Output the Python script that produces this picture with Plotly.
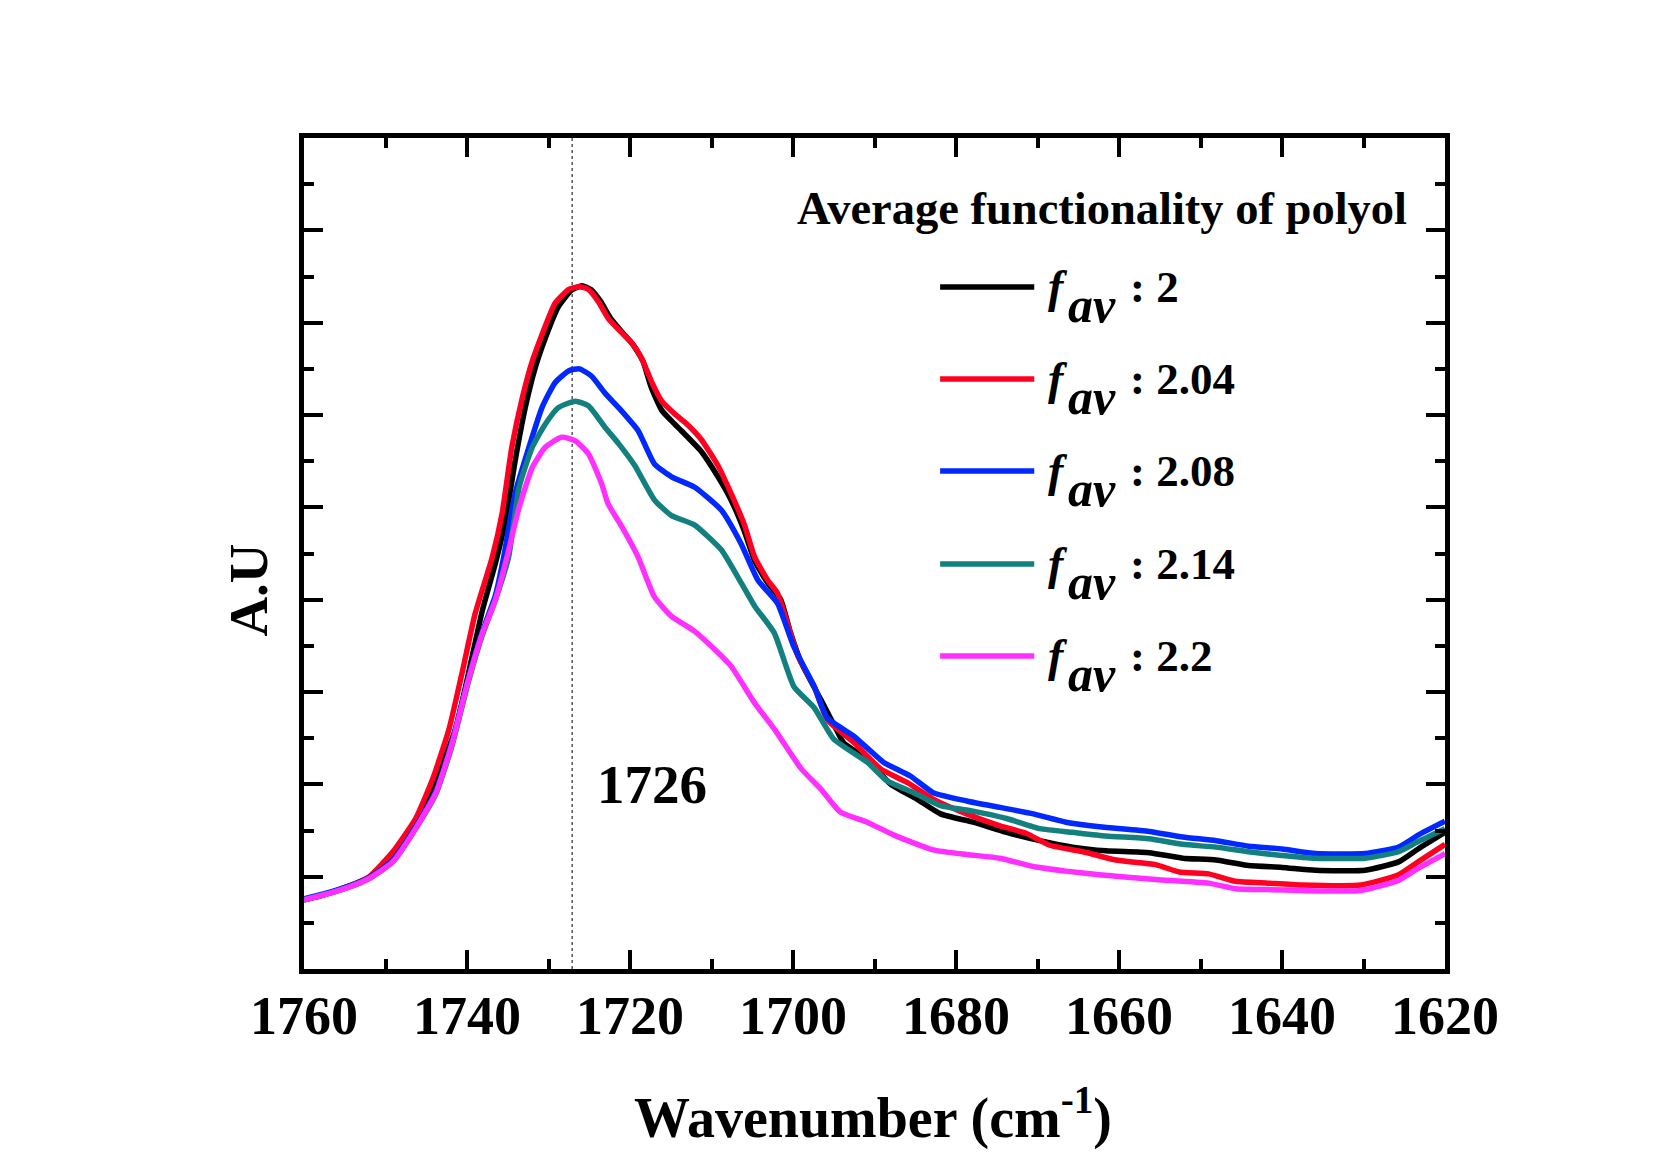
import plotly.graph_objects as go

# ---- data ----
w_f200 = [1760, 1757.7, 1754.4, 1752, 1749.1, 1746.3, 1744.2, 1741.4, 1738.1, 1736.5, 1735.3, 1734.1,
          1732.8, 1731.6, 1730.4, 1728.8, 1727.2, 1725.9, 1724.8, 1723.6, 1722.4, 1720.8, 1719.6,
          1718.4, 1717.4, 1716.1, 1714.5, 1713.7, 1711.3, 1709.2, 1707.6, 1706.0, 1704.7, 1703.1,
          1701.5, 1700.3, 1699.0, 1696.6, 1694.6, 1693.8, 1690.9, 1688.0, 1684.8, 1681.9, 1677.9,
          1673.8, 1669.7, 1665.7, 1661.6, 1656.3, 1652.2, 1648.1, 1644.1, 1640.0, 1635.9, 1629.8,
          1625.7, 1623.3, 1620]
a_f200 = [0.75, 0.80, 0.90, 0.99, 1.24, 1.58, 1.98, 2.60, 3.89, 4.40, 4.85, 5.50,
          6.10, 6.52, 6.83, 7.17, 7.35, 7.40, 7.36, 7.23, 7.05, 6.88, 6.76,
          6.58, 6.30, 6.05, 5.90, 5.83, 5.61, 5.33, 5.08, 4.75, 4.42, 4.18,
          4.00, 3.64, 3.32, 2.92, 2.58, 2.45, 2.27, 2.00, 1.84, 1.68, 1.59,
          1.48, 1.39, 1.32, 1.28, 1.26, 1.20, 1.18, 1.12, 1.10, 1.07, 1.07,
          1.16, 1.30, 1.48]

w_f204 = [1760, 1757.7, 1754.4, 1752, 1749.1, 1746.3, 1744.2, 1742.2, 1740.6, 1739.0, 1736.9, 1735.7,
          1734.5, 1733.2, 1732.0, 1730.8, 1729.2, 1727.5, 1726.2, 1725.1, 1723.9, 1722.7, 1721.0,
          1719.8, 1718.6, 1717.4, 1716.1, 1714.5, 1713.0, 1711.3, 1709.2, 1707.6, 1706.0, 1704.7,
          1703.1, 1701.9, 1700.7, 1699.4, 1697.4, 1695.8, 1692.5, 1689.3, 1686.0, 1682.8, 1678.7,
          1674.6, 1671.4, 1668.5, 1664.4, 1660.4, 1655.5, 1652.6, 1649.0, 1645.7, 1641.7, 1637.6,
          1630.3, 1625.7, 1623.3, 1620]
a_f204 = [0.75, 0.80, 0.90, 1.00, 1.27, 1.63, 2.06, 2.60, 3.21, 3.85, 4.46, 4.93,
          5.65, 6.19, 6.58, 6.87, 7.21, 7.36, 7.39, 7.36, 7.23, 7.05, 6.89,
          6.78, 6.62, 6.37, 6.15, 6.01, 5.90, 5.74, 5.45, 5.15, 4.82, 4.46,
          4.21, 4.07, 3.75, 3.39, 3.06, 2.70, 2.45, 2.17, 2.02, 1.84, 1.68,
          1.55, 1.47, 1.34, 1.27, 1.18, 1.13, 1.05, 1.03, 0.95, 0.93, 0.91,
          0.91, 1.02, 1.16, 1.35]

w_f208 = [1760, 1757.7, 1754.4, 1752, 1749.1, 1746.3, 1743.8, 1741.8, 1739.8, 1738.1, 1736.5, 1735.5,
          1734.1, 1732.4, 1730.8, 1729.2, 1727.5, 1726.2, 1724.7, 1723.1, 1721.4, 1719.0, 1717.0,
          1714.9, 1712.1, 1708.8, 1706.4, 1704.3, 1701.9, 1699.9, 1697.4, 1695.8, 1692.5, 1688.9,
          1685.6, 1682.8, 1678.7, 1674.6, 1670.5, 1666.5, 1662.4, 1656.3, 1652.2, 1648.1, 1644.1,
          1640.0, 1635.9, 1629.8, 1625.7, 1623.3, 1620]
a_f208 = [0.76, 0.81, 0.90, 0.99, 1.18, 1.54, 1.93, 2.47, 3.16, 3.66, 4.05, 4.46,
          5.15, 5.65, 6.08, 6.35, 6.48, 6.50, 6.42, 6.24, 6.08, 5.83, 5.47,
          5.33, 5.22, 4.97, 4.61, 4.21, 3.96, 3.49, 3.06, 2.72, 2.52, 2.24,
          2.09, 1.91, 1.82, 1.75, 1.68, 1.59, 1.54, 1.49, 1.43, 1.39, 1.33,
          1.30, 1.25, 1.25, 1.32, 1.45, 1.60]

w_f214 = [1760, 1757.7, 1754.4, 1752, 1749.1, 1746.3, 1743.8, 1741.8, 1739.8, 1738.1, 1736.5, 1734.9,
          1733.6, 1732.0, 1730.4, 1728.8, 1726.7, 1725.1, 1723.1, 1721.4, 1719.4, 1717.0, 1714.9,
          1712.1, 1708.8, 1706.8, 1704.7, 1702.3, 1699.9, 1697.4, 1695.0, 1690.9, 1688.5, 1685.2,
          1681.9, 1677.9, 1673.8, 1669.7, 1665.7, 1661.6, 1656.3, 1652.2, 1648.1, 1644.1, 1640.0,
          1635.9, 1629.8, 1625.7, 1623.3, 1620]
a_f214 = [0.75, 0.80, 0.89, 0.98, 1.16, 1.52, 1.90, 2.43, 3.12, 3.62, 4.00, 4.46,
          5.22, 5.65, 5.90, 6.08, 6.15, 6.10, 5.87, 5.69, 5.45, 5.08, 4.91,
          4.81, 4.54, 4.25, 3.93, 3.64, 3.06, 2.83, 2.49, 2.24, 2.04, 1.91,
          1.77, 1.71, 1.63, 1.52, 1.48, 1.44, 1.41, 1.35, 1.32, 1.27, 1.23,
          1.20, 1.20, 1.27, 1.38, 1.52]

w_f220 = [1760, 1757.7, 1754.4, 1752, 1749.1, 1746.3, 1743.8, 1741.8, 1739.8, 1738.1, 1736.5, 1735.1,
          1733.6, 1732.0, 1730.4, 1728.4, 1726.7, 1725.1, 1723.5, 1722.7, 1721.0, 1719.0, 1717.0,
          1714.9, 1712.1, 1709.6, 1707.6, 1704.7, 1702.3, 1699.0, 1696.6, 1694.2, 1690.9, 1687.6,
          1682.8, 1678.7, 1674.6, 1670.5, 1666.5, 1662.4, 1655.5, 1649.0, 1645.7, 1641.7, 1637.6,
          1630.3, 1625.7, 1623.3, 1620]
a_f220 = [0.75, 0.80, 0.89, 0.98, 1.16, 1.52, 1.91, 2.45, 3.14, 3.64, 4.00, 4.46,
          5.00, 5.43, 5.65, 5.76, 5.72, 5.58, 5.26, 5.04, 4.79, 4.46, 4.03,
          3.82, 3.66, 3.46, 3.28, 2.88, 2.60, 2.17, 1.95, 1.70, 1.59, 1.45,
          1.29, 1.24, 1.20, 1.11, 1.06, 1.02, 0.97, 0.93, 0.87, 0.86, 0.85,
          0.85, 0.96, 1.09, 1.25]

series_values = ["2", "2.04", "2.08", "2.14", "2.2"]
series_x = [w_f200, w_f204, w_f208, w_f214, w_f220]
series_y = [a_f200, a_f204, a_f208, a_f214, a_f220]
series_colors = ["#000000", "#FF0020", "#0028FF", "#138080", "#FF30FF"]

peak_position = 1727.1
peak_label = "1726"
legend_title = "Average functionality of polyol"
x_ticks = [1760, 1740, 1720, 1700, 1680, 1660, 1640, 1620]

FONT = "Liberation Serif, Times New Roman, serif"

fig = go.Figure()
for xs, ys, col, lab in zip(series_x, series_y, series_colors, series_values):
    fig.add_trace(go.Scatter(x=xs, y=ys, mode="lines", name=lab,
                             line=dict(color=col, width=5.5, shape="spline", smoothing=0.5),
                             showlegend=False))

# dotted marker line at the peak
fig.add_shape(type="line", xref="x", yref="paper", x0=peak_position, x1=peak_position,
              y0=0, y1=1, line=dict(color="black", width=1, dash="dot"), layer="below")

annotations = []
annotations.append(dict(text="<b>" + peak_label + "</b>", x=0.3053, y=0.2226, xref="paper", yref="paper",
                        showarrow=False, font=dict(family=FONT, size=55, color="black"),
                        xanchor="center", yanchor="middle"))
annotations.append(dict(text="<b>" + legend_title + "</b>", x=0.4306, y=0.9146, xref="paper", yref="paper",
                        showarrow=False, font=dict(family=FONT, size=46.5, color="black"),
                        xanchor="left", yanchor="middle"))

leg_y = [0.8207, 0.7100, 0.5993, 0.4874, 0.3767]
for ly, col, lab in zip(leg_y, series_colors, series_values):
    fig.add_shape(type="line", xref="paper", yref="paper", x0=0.5575, x1=0.6400, y0=ly, y1=ly,
                  line=dict(color=col, width=5.5))
    annotations.append(dict(text="<b><i>f</i></b>", x=0.6505, y=ly, xref="paper", yref="paper",
                            showarrow=False, font=dict(family=FONT, size=46, color="black"),
                            xanchor="left", yanchor="middle"))
    annotations.append(dict(text="<b><i>av</i></b>", x=0.6680, y=ly - 0.0215, xref="paper", yref="paper",
                            showarrow=False, font=dict(family=FONT, size=50, color="black"),
                            xanchor="left", yanchor="middle"))
    annotations.append(dict(text="<b>: " + lab + "</b>", x=0.7225, y=ly, xref="paper", yref="paper",
                            showarrow=False, font=dict(family=FONT, size=45, color="black"),
                            xanchor="left", yanchor="middle"))

annotations.append(dict(text="<b>Wavenumber (cm<sup>-1</sup>)</b>", x=0.4989, y=-0.1745,
                        xref="paper", yref="paper", showarrow=False,
                        font=dict(family=FONT, size=56, color="black"),
                        xanchor="center", yanchor="middle"))
annotations.append(dict(text="<b>A.U</b>", x=-0.0486, y=0.456, xref="paper", yref="paper",
                        showarrow=False, textangle=-90,
                        font=dict(family=FONT, size=55, color="black"),
                        xanchor="center", yanchor="middle"))

fig.update_layout(
    width=1680, height=1165,
    margin=dict(l=303.5, r=235, t=138, b=196),
    paper_bgcolor="white", plot_bgcolor="white",
    font=dict(family=FONT, color="black"),
    annotations=annotations,
    showlegend=False,
)
fig.update_xaxes(range=[1760, 1620], tickvals=x_ticks, ticktext=[str(t) for t in x_ticks],
                 ticks="inside", ticklen=19, tickwidth=4, tickcolor="black",
                 minor=dict(dtick=10, tick0=1620, ticks="inside", ticklen=10, tickwidth=4, tickcolor="black"),
                 showline=True, linewidth=4.5, linecolor="black", mirror="allticks",
                 showgrid=False, zeroline=False,
                 tickfont=dict(family=FONT, size=54, color="black", weight="bold"),
                 ticklabelstandoff=-5)
fig.update_yaxes(range=[0, 9], dtick=1, tick0=0, showticklabels=False,
                 ticks="inside", ticklen=19, tickwidth=4, tickcolor="black",
                 minor=dict(dtick=0.5, tick0=0, ticks="inside", ticklen=10, tickwidth=4, tickcolor="black"),
                 showline=True, linewidth=4.5, linecolor="black", mirror="allticks",
                 showgrid=False, zeroline=False)

fig.write_html("out.html")
